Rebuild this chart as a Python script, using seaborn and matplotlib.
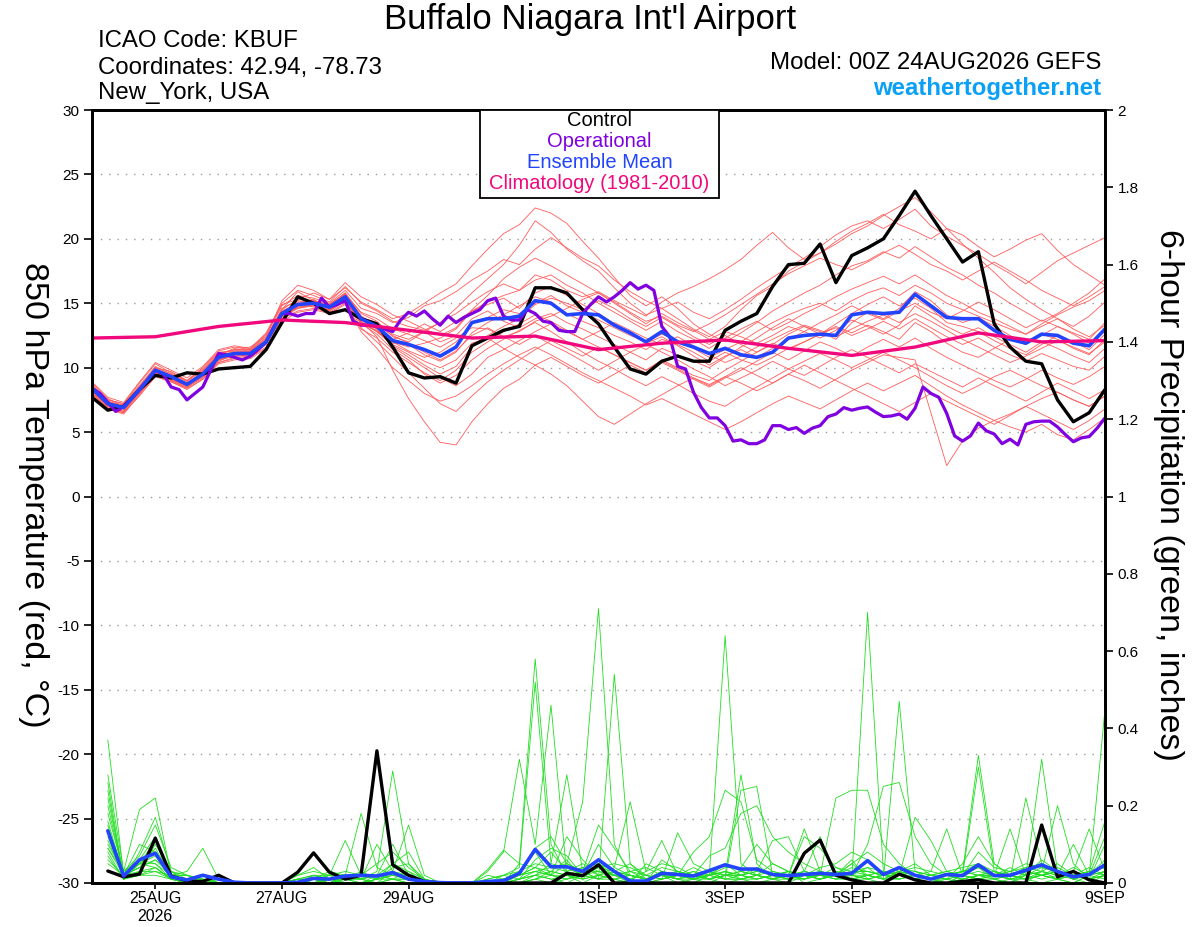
import numpy as np
import pandas as pd
import matplotlib
matplotlib.use("Agg")
import matplotlib.pyplot as plt
import seaborn as sns
from matplotlib.patches import Rectangle

# forecast hours counted from 00Z 24AUG2026
hours6 = np.arange(0, 385, 6)
hours3 = np.arange(0, 385, 3)
precip_hours = np.arange(6, 385, 6)
clim_hours = np.arange(0, 385, 24)

tick_hours = [24, 72, 120, 192, 240, 288, 336, 384]
tick_labels = ["25AUG\n2026", "27AUG", "29AUG", "1SEP", "3SEP", "5SEP", "7SEP", "9SEP"]

# 850 hPa temperature (C)
control_t = [7.7, 6.7, 7.0, 8.3, 9.4, 9.2, 9.6, 9.5, 9.9, 10.0, 10.1, 11.4, 13.5, 15.5, 15.0, 14.2, 14.5,
             13.8, 13.4, 11.6, 9.6, 9.2, 9.3, 8.8, 11.7, 12.3, 12.9, 13.2, 16.2, 16.2, 15.8, 14.5, 13.4,
             11.6, 9.9, 9.5, 10.5, 10.9, 10.5, 10.5, 12.9, 13.6, 14.2, 16.3, 18.0, 18.1, 19.6, 16.6, 18.7,
             19.3, 20.0, 21.8, 23.7, 21.8, 20.0, 18.2, 19.0, 13.4, 11.6, 10.5, 10.3, 7.5, 5.8, 6.5, 8.3]

mean_t = [8.4, 7.2, 6.9, 8.3, 9.8, 9.3, 8.7, 9.5, 10.8, 11.1, 11.1, 12.0, 14.2, 14.9, 15.0, 14.7, 15.5,
          13.8, 13.2, 12.1, 11.8, 11.4, 10.9, 11.6, 13.5, 13.8, 13.8, 14.0, 15.2, 15.0, 14.1, 14.2, 14.1,
          13.3, 12.7, 12.0, 12.8, 12.0, 11.6, 11.1, 11.5, 11.0, 10.8, 11.2, 12.3, 12.5, 12.6, 12.5, 14.1,
          14.3, 14.2, 14.3, 15.7, 14.8, 13.9, 13.8, 13.8, 12.9, 12.2, 11.9, 12.6, 12.5, 11.9, 11.7, 13.0]

oper_t = [8.4, 8.0, 7.3, 6.6, 7.0, 7.6, 8.3, 9.0, 9.8, 9.5, 8.5, 8.3, 7.5, 8.0, 8.5, 9.8,
          11.1, 11.0, 10.8, 10.6, 10.9, 11.4, 12.0, 13.2, 14.2, 14.2, 14.0, 14.2, 14.2, 15.4, 14.7, 14.9,
          15.2, 13.6, 13.3, 13.3, 13.2, 13.0, 12.8, 13.7, 14.3, 14.0, 14.4, 13.8, 13.3, 14.0, 13.5, 13.9,
          14.2, 14.5, 15.2, 15.4, 14.0, 13.7, 13.7, 14.5, 14.2, 13.6, 13.5, 12.9, 12.8, 12.8, 14.2, 14.9,
          15.5, 15.1, 15.5, 16.0, 16.6, 16.1, 16.4, 16.0, 13.2, 12.4, 10.1, 9.9, 8.1, 6.9, 6.1, 6.1,
          5.5, 4.3, 4.4, 4.1, 4.1, 4.4, 5.5, 5.5, 5.2, 5.35, 4.9, 5.3, 5.5, 6.2, 6.4, 6.9,
          6.7, 6.85, 6.95, 6.55, 6.2, 6.25, 6.4, 6.0, 6.85, 8.5, 8.0, 7.7, 6.45, 4.7, 4.3, 4.7,
          5.7, 5.1, 4.85, 4.1, 4.45, 4.0, 5.6, 5.8, 5.85, 5.85, 5.4, 4.8, 4.25, 4.55, 4.65, 5.3,
          6.1]

clim_t = [12.3, 12.4, 13.2, 13.7, 13.5, 12.9, 12.3, 12.45, 11.4, 11.9, 12.15, 11.5, 10.95, 11.6,
          12.7, 12.0, 12.1]

# 6-hour precipitation (inches)
control_p = [0.031, 0.016, 0.023, 0.116, 0.018, 0.005, 0.004, 0.02,
             0.0, 0.0, 0.0, 0.0, 0.028, 0.078, 0.028, 0.01,
             0.02, 0.342, 0.047, 0.02, 0.004, 0.0, 0.0, 0.0,
             0.0, 0.0, 0.0, 0.0, 0.0, 0.025, 0.019, 0.047,
             0.0, 0.0, 0.0, 0.0, 0.0, 0.0, 0.0, 0.0,
             0.0, 0.0, 0.0, 0.0, 0.077, 0.111, 0.02, 0.008,
             0.0, 0.0, 0.023, 0.008, 0.0, 0.0, 0.004, 0.008,
             0.0, 0.0, 0.0, 0.15, 0.016, 0.03, 0.008, 0.0]

mean_p = [0.135, 0.018, 0.06, 0.077, 0.016, 0.008, 0.02, 0.01,
          0.002, 0.0, 0.0, 0.0, 0.002, 0.012, 0.01, 0.018,
          0.02, 0.018, 0.027, 0.01, 0.004, 0.001, 0.0, 0.0,
          0.004, 0.006, 0.025, 0.087, 0.042, 0.042, 0.03, 0.06,
          0.03, 0.005, 0.005, 0.025, 0.022, 0.018, 0.032, 0.047,
          0.036, 0.036, 0.022, 0.019, 0.022, 0.025, 0.022, 0.025,
          0.058, 0.022, 0.04, 0.02, 0.01, 0.022, 0.019, 0.047,
          0.019, 0.02, 0.033, 0.047, 0.03, 0.016, 0.022, 0.047]

# ensemble members, 850 hPa temperature
members_t = [
    [8.6, 7.5, 7.2, 8.8, 10.3, 9.6, 9.0, 10.0, 11.3, 11.6, 11.4, 12.5, 14.8, 15.6, 15.4, 15.0, 16.0,
     14.6, 14.2, 13.5, 13.9, 14.8, 15.2, 15.9, 16.8, 17.5, 18.4, 18.0, 19.2, 20.1, 19.3, 18.5, 17.9,
     16.8, 15.9, 15.2, 14.6, 15.1, 14.3, 13.8, 14.5, 15.3, 16.2, 17.0, 17.8, 18.5, 19.4, 20.3, 21.0,
     21.4, 20.8, 21.5, 22.3, 21.0, 20.2, 19.5, 18.8, 18.0, 17.3, 16.5, 17.4, 18.3, 18.9, 19.5, 20.1],
    [8.2, 7.0, 6.6, 8.1, 9.5, 9.0, 8.5, 9.3, 10.6, 10.9, 11.0, 12.1, 14.5, 15.9, 15.2, 14.9, 15.8,
     14.2, 13.6, 12.4, 12.0, 12.8, 13.5, 14.6, 15.8, 16.9, 18.0, 19.5, 21.4, 20.5, 19.2, 18.3, 17.5,
     16.2, 15.0, 14.1, 14.6, 13.8, 13.0, 12.4, 13.2, 14.5, 15.6, 16.3, 17.5, 18.2, 18.9, 19.6, 20.4,
     21.0, 21.8, 22.5, 23.2, 22.1, 20.8, 19.6, 18.5, 17.4, 16.2, 15.3, 14.5, 13.8, 13.2, 14.0, 15.1],
    [8.8, 7.6, 7.0, 8.6, 10.0, 9.5, 8.9, 9.8, 11.0, 11.5, 11.6, 12.4, 15.2, 16.4, 16.0, 15.3, 16.2,
     15.1, 14.5, 13.8, 14.2, 15.0, 15.8, 16.5, 17.9, 19.2, 20.4, 21.1, 22.4, 22.0, 21.2, 19.8, 18.5,
     17.0, 15.6, 14.8, 15.5, 14.6, 13.4, 12.6, 12.0, 12.7, 13.5, 14.4, 15.1, 15.8, 16.4, 17.2, 17.9,
     18.3, 19.0, 18.5, 19.4, 18.6, 17.8, 17.2, 16.4, 15.8, 15.0, 14.3, 13.6, 14.2, 15.0, 15.8, 16.9],
    [8.0, 6.8, 6.5, 8.0, 9.4, 9.1, 8.6, 9.4, 10.4, 10.8, 10.9, 11.8, 13.9, 14.6, 14.9, 14.4, 15.2,
     13.4, 12.9, 12.0, 11.6, 11.9, 12.3, 13.0, 14.4, 15.1, 15.6, 16.0, 17.2, 16.8, 16.0, 15.5, 15.9,
     15.2, 14.6, 14.0, 15.1, 15.8, 16.3, 16.9, 17.6, 18.4, 19.5, 20.5, 19.3, 18.4, 18.9, 19.8, 20.6,
     21.2, 21.9, 21.1, 20.6, 20.0, 20.8, 20.3, 19.4, 18.6, 19.2, 19.9, 20.4, 19.1, 18.0, 17.2, 16.4],
    [8.5, 7.3, 7.1, 8.4, 10.0, 9.7, 9.0, 9.9, 11.2, 11.3, 11.5, 12.6, 14.9, 15.3, 15.8, 15.3, 16.6,
     15.5, 14.9, 14.1, 13.6, 13.0, 12.5, 13.1, 14.5, 15.6, 16.9, 17.8, 18.5, 17.9, 17.2, 16.5, 15.8,
     15.1, 14.3, 13.6, 14.0, 13.3, 12.8, 13.4, 14.1, 14.9, 15.7, 16.5, 17.3, 17.9, 18.5, 18.0, 17.6,
     18.2, 18.9, 19.5, 18.8, 18.0, 17.5, 16.8, 17.5, 18.2, 17.5, 16.8, 16.0, 15.4, 14.8, 15.5, 16.3],
    [8.3, 7.1, 6.8, 8.2, 9.7, 9.2, 8.6, 9.6, 10.9, 11.2, 11.0, 11.9, 14.0, 14.8, 15.1, 14.8, 15.6,
     14.0, 13.2, 12.0, 11.3, 10.8, 11.2, 12.0, 13.4, 13.9, 14.5, 14.2, 15.0, 15.6, 14.8, 14.3, 13.7,
     13.1, 12.5, 12.0, 12.6, 12.1, 11.5, 10.8, 11.4, 12.0, 12.8, 13.5, 14.1, 14.6, 15.0, 14.4, 15.2,
     15.8, 16.2, 15.6, 16.4, 15.8, 15.0, 14.5, 14.0, 13.5, 13.0, 12.6, 13.2, 13.8, 13.0, 12.4, 13.3],
    [8.1, 7.0, 6.7, 8.5, 9.9, 9.4, 8.8, 9.4, 10.7, 11.0, 11.3, 12.2, 14.4, 15.0, 14.7, 14.5, 15.3,
     13.6, 12.8, 11.7, 11.0, 10.2, 9.5, 10.1, 11.6, 12.5, 13.2, 13.8, 14.9, 15.4, 15.0, 14.5, 15.2,
     14.6, 13.8, 13.2, 13.9, 13.2, 12.4, 11.8, 12.5, 11.8, 11.2, 11.8, 12.6, 13.2, 12.8, 12.2, 13.5,
     14.3, 13.8, 14.6, 15.9, 15.2, 14.1, 13.5, 13.9, 13.2, 12.5, 11.8, 12.6, 12.2, 11.5, 11.0, 12.2],
    [8.7, 7.4, 7.0, 8.2, 9.6, 9.1, 8.5, 9.2, 10.5, 11.0, 11.2, 12.0, 14.1, 14.9, 15.3, 14.6, 15.4,
     13.9, 13.5, 12.6, 12.2, 12.8, 12.0, 12.5, 13.8, 14.4, 13.6, 13.1, 13.8, 14.2, 13.5, 13.0, 12.4,
     11.8, 11.2, 10.6, 11.5, 11.0, 10.5, 10.0, 10.8, 11.6, 12.3, 13.1, 13.8, 13.2, 12.6, 13.4, 14.2,
     14.9, 15.5, 14.8, 15.4, 14.6, 13.5, 13.2, 12.8, 12.1, 11.5, 11.0, 11.8, 12.5, 12.0, 11.4, 12.6],
    [8.4, 7.3, 7.1, 8.4, 9.8, 9.2, 8.7, 9.7, 11.0, 11.4, 11.3, 12.3, 14.6, 15.2, 15.0, 14.9, 15.7,
     14.3, 13.8, 13.0, 12.6, 12.1, 11.6, 12.3, 13.1, 13.0, 12.4, 12.8, 13.6, 14.0, 14.6, 15.3, 15.8,
     15.0, 14.2, 13.4, 14.2, 13.5, 12.9, 12.2, 12.8, 12.4, 11.9, 12.5, 13.2, 12.8, 12.3, 12.9, 13.7,
     13.2, 12.6, 13.3, 14.8, 14.0, 13.2, 12.6, 13.1, 12.4, 11.8, 11.2, 12.0, 11.5, 10.9, 10.4, 11.5],
    [8.2, 7.1, 6.9, 8.0, 9.5, 9.3, 8.8, 9.5, 10.8, 11.1, 11.0, 11.9, 14.0, 14.7, 14.8, 14.4, 15.2,
     13.5, 12.8, 11.9, 11.8, 11.0, 10.5, 11.2, 12.7, 13.5, 14.1, 14.8, 15.5, 15.1, 14.2, 13.6, 13.1,
     12.5, 12.0, 11.4, 12.2, 11.8, 11.2, 10.5, 11.2, 10.6, 10.2, 10.8, 11.5, 12.0, 12.6, 13.2, 12.7,
     13.3, 12.8, 12.2, 13.5, 12.8, 11.9, 11.2, 10.8, 11.5, 12.2, 11.8, 12.5, 13.2, 12.6, 11.9, 13.0],
    [8.9, 7.7, 7.3, 8.9, 10.4, 9.8, 9.2, 10.1, 11.4, 11.7, 11.5, 12.7, 15.0, 16.0, 15.6, 15.1, 16.3,
     15.0, 14.4, 13.6, 13.2, 12.9, 13.5, 14.2, 15.1, 15.9, 16.5, 16.0, 16.8, 17.2, 16.4, 15.8, 15.0,
     14.3, 13.6, 12.9, 13.6, 12.8, 12.2, 11.5, 12.3, 13.0, 13.6, 12.9, 13.5, 14.2, 14.8, 15.5, 16.1,
     16.6, 17.1, 16.5, 17.2, 16.4, 15.6, 15.0, 14.3, 13.8, 13.2, 12.6, 13.4, 14.1, 14.7, 15.2, 16.0],
    [8.0, 6.9, 6.5, 7.8, 9.3, 8.9, 8.3, 9.1, 10.3, 10.6, 10.7, 11.5, 13.6, 14.3, 14.5, 14.2, 14.9,
     13.0, 12.3, 11.2, 10.4, 9.6, 9.0, 9.8, 11.2, 12.0, 12.8, 13.4, 14.1, 13.6, 12.9, 12.2, 11.6,
     11.0, 10.4, 9.8, 10.6, 10.0, 9.4, 9.0, 9.8, 10.5, 11.2, 11.9, 11.4, 12.0, 12.6, 13.1, 12.5,
     13.0, 13.6, 13.0, 13.8, 13.1, 12.4, 11.8, 12.3, 11.6, 11.0, 10.5, 11.1, 10.6, 10.1, 9.8, 10.9],
    [8.6, 7.2, 6.8, 8.3, 9.9, 9.4, 8.6, 9.3, 10.9, 11.3, 11.2, 12.1, 14.3, 15.1, 15.2, 14.7, 15.5,
     13.7, 13.0, 12.2, 12.7, 13.4, 12.8, 13.6, 14.4, 14.9, 15.4, 14.6, 15.8, 16.3, 15.6, 14.9, 14.2,
     13.4, 12.6, 11.9, 12.4, 11.7, 10.9, 10.2, 10.9, 11.4, 10.8, 11.5, 12.2, 12.8, 13.5, 14.1, 14.8,
     14.2, 13.7, 14.4, 15.0, 14.3, 13.8, 14.4, 15.1, 14.5, 13.8, 13.1, 13.7, 13.2, 12.7, 12.2, 13.5],
    [8.3, 7.0, 6.6, 8.2, 9.6, 9.0, 8.4, 9.5, 10.7, 11.0, 11.2, 12.0, 14.2, 15.0, 14.9, 14.6, 15.5,
     13.8, 13.0, 11.6, 10.8, 10.0, 9.2, 8.6, 9.5, 10.8, 11.4, 12.1, 12.8, 13.4, 12.8, 12.2, 12.8,
     13.5, 12.9, 12.3, 11.8, 12.4, 11.7, 11.0, 10.4, 10.9, 11.6, 12.2, 12.8, 13.3, 12.9, 12.4, 13.0,
     13.6, 14.1, 13.5, 14.2, 13.6, 12.9, 12.2, 11.6, 11.0, 10.4, 10.9, 11.5, 12.1, 11.6, 11.1, 12.0],
    [8.5, 7.4, 7.0, 8.3, 9.8, 9.4, 8.8, 9.6, 10.9, 11.2, 11.3, 12.1, 14.3, 15.0, 15.1, 14.8, 15.7,
     13.6, 12.4, 9.8, 7.6, 5.8, 4.2, 4.0, 5.8, 7.2, 8.4, 9.1, 10.2, 10.8, 10.1, 9.4, 8.8,
     9.5, 10.2, 9.6, 10.4, 9.8, 9.1, 8.5, 9.2, 9.8, 10.5, 11.2, 10.6, 11.3, 12.0, 11.5, 10.9,
     11.6, 12.2, 11.6, 12.3, 11.5, 10.8, 10.2, 9.6, 9.0, 8.5, 9.1, 9.8, 9.2, 8.7, 9.3, 10.1],
    [8.1, 7.0, 6.6, 8.1, 9.6, 9.1, 8.6, 9.3, 10.6, 10.9, 11.0, 11.8, 14.0, 14.6, 14.8, 14.5, 15.2,
     13.5, 12.8, 11.8, 11.2, 10.5, 10.0, 10.6, 11.9, 12.3, 11.5, 10.8, 10.2, 9.5, 8.6, 7.4, 6.2,
     5.6, 6.4, 7.2, 7.9, 8.6, 9.2, 8.7, 9.3, 8.8, 8.2, 8.8, 9.5, 9.0, 8.4, 9.1, 9.8,
     10.4, 11.0, 10.8, 10.6, 6.5, 2.4, 4.3, 5.3, 5.9, 6.4, 7.0, 7.6, 8.1, 7.5, 7.0, 7.8],
    [8.0, 6.8, 6.4, 7.9, 9.4, 8.9, 8.4, 9.1, 10.4, 10.7, 10.8, 11.6, 13.8, 14.4, 14.6, 14.3, 15.0,
     12.8, 11.5, 10.0, 9.0, 8.0, 7.4, 7.8, 8.6, 9.5, 10.3, 11.0, 11.6, 11.0, 10.3, 9.6, 9.0,
     8.4, 7.8, 7.1, 7.6, 7.0, 6.4, 5.8, 5.2, 5.8, 6.5, 7.2, 7.8, 7.3, 6.8, 7.5, 8.2,
     8.8, 8.2, 8.8, 9.4, 8.6, 7.8, 7.1, 6.5, 5.9, 5.4, 5.0, 5.6, 4.8, 4.4, 5.2, 6.1],
    [8.4, 7.2, 6.9, 8.4, 9.8, 9.3, 8.7, 9.5, 10.8, 11.2, 11.1, 12.0, 14.1, 14.8, 15.0, 14.7, 15.4,
     13.4, 12.6, 11.4, 10.6, 9.5, 8.8, 9.4, 10.6, 11.5, 12.2, 12.9, 13.5, 12.8, 12.0, 11.2, 10.5,
     9.9, 9.2, 8.6, 9.3, 8.7, 8.0, 7.4, 7.0, 7.8, 8.5, 9.2, 9.9, 10.5, 11.1, 10.6, 10.0,
     10.6, 11.2, 10.6, 10.0, 9.3, 8.6, 8.0, 8.6, 9.3, 9.8, 9.2, 8.6, 8.1, 7.5, 7.0, 7.8],
    [8.6, 7.5, 7.2, 8.6, 10.1, 9.5, 9.0, 9.8, 11.1, 11.4, 11.4, 12.3, 14.5, 15.3, 15.2, 14.9, 15.8,
     14.0, 13.3, 12.5, 11.9, 11.2, 10.6, 11.3, 12.5, 13.1, 12.4, 11.8, 12.5, 11.8, 11.2, 10.5, 9.8,
     10.5, 11.2, 11.8, 11.2, 10.6, 9.9, 9.3, 8.6, 9.2, 9.8, 10.5, 9.9, 9.4, 10.1, 10.8, 11.4,
     10.8, 10.2, 9.6, 10.3, 9.7, 9.1, 8.5, 9.2, 8.6, 8.0, 7.4, 8.1, 8.8, 8.2, 7.6, 8.3],
    [8.2, 7.1, 6.8, 8.2, 9.7, 9.1, 8.6, 9.4, 10.7, 11.0, 11.1, 11.9, 14.0, 14.7, 14.9, 14.5, 15.3,
     13.1, 12.0, 10.8, 9.6, 8.4, 7.2, 6.6, 7.8, 8.9, 9.8, 10.6, 11.4, 12.1, 11.5, 10.9, 11.6,
     11.0, 10.4, 9.8, 10.5, 9.9, 9.2, 8.6, 9.3, 10.0, 9.4, 8.8, 9.5, 10.2, 9.6, 9.0, 8.4,
     7.8, 7.2, 6.6, 7.3, 8.0, 7.4, 6.8, 6.2, 5.6, 6.3, 7.0, 6.4, 5.8, 5.2, 5.9, 6.8],
]

# ensemble members, 6-hour precipitation
members_p = [
    [0.37, 0.02, 0.05, 0.08, 0.01, 0, 0, 0, 0, 0, 0, 0, 0, 0.01, 0, 0.02,
     0.01, 0.03, 0.29, 0.05, 0, 0, 0, 0, 0, 0, 0.05, 0.58, 0.10, 0.02, 0.01, 0.05,
     0.02, 0, 0, 0.06, 0.03, 0.01, 0, 0.02, 0.28, 0.05, 0.01, 0, 0.02, 0.01, 0.03, 0.02,
     0.01, 0, 0.02, 0.01, 0, 0.01, 0, 0.02, 0.01, 0, 0.03, 0.02, 0.01, 0, 0.02, 0.45],
    [0.28, 0.03, 0.19, 0.22, 0.02, 0.01, 0, 0, 0, 0, 0, 0, 0.01, 0.02, 0.01, 0,
     0, 0.01, 0.02, 0.01, 0, 0, 0, 0, 0.03, 0.08, 0.32, 0.10, 0.46, 0.02, 0, 0.02,
     0.01, 0, 0, 0.01, 0.02, 0.04, 0.02, 0.64, 0.05, 0.02, 0.01, 0.03, 0, 0.01, 0.02, 0.01,
     0.70, 0.03, 0.02, 0.01, 0, 0, 0.02, 0.01, 0.02, 0.01, 0, 0.03, 0.2, 0.05, 0.01, 0.02],
    [0.26, 0.01, 0.08, 0.17, 0.03, 0, 0, 0, 0, 0, 0, 0, 0.02, 0.03, 0.02, 0.11,
     0.02, 0.01, 0.05, 0.08, 0.01, 0, 0, 0, 0.01, 0.02, 0.04, 0.52, 0.05, 0.28, 0.03, 0.01,
     0.54, 0.05, 0.01, 0.02, 0, 0.01, 0.03, 0.01, 0.24, 0.25, 0.02, 0.01, 0.02, 0.03, 0.02, 0.01,
     0.02, 0.01, 0.47, 0.03, 0.01, 0, 0.02, 0.04, 0.01, 0, 0.02, 0.32, 0.03, 0.01, 0, 0.02],
    [0.2, 0.02, 0.06, 0.12, 0.02, 0.01, 0.02, 0, 0, 0, 0, 0, 0, 0.01, 0.03, 0.02,
     0.18, 0.04, 0.02, 0.01, 0, 0, 0, 0, 0, 0.01, 0.03, 0.08, 0.02, 0.05, 0.21, 0.71,
     0.1, 0.02, 0.01, 0.02, 0.01, 0, 0.02, 0.03, 0.02, 0.01, 0.02, 0.02, 0.14, 0.03, 0.02, 0.02,
     0.04, 0.01, 0.03, 0.02, 0.01, 0.02, 0.03, 0.33, 0.05, 0.02, 0.01, 0.02, 0.01, 0, 0.02, 0.03],
    [0.15, 0.01, 0.03, 0.1, 0.03, 0.02, 0, 0, 0, 0, 0, 0, 0, 0.02, 0.01, 0.01,
     0.01, 0.02, 0.1, 0.02, 0, 0, 0, 0, 0, 0, 0.01, 0.03, 0.02, 0.01, 0.02, 0.1,
     0.04, 0.21, 0.03, 0.11, 0.02, 0.01, 0.02, 0.05, 0.02, 0.03, 0.11, 0.12, 0.03, 0.02, 0.22, 0.24,
     0.24, 0.1, 0.05, 0.02, 0.01, 0, 0.01, 0.02, 0.02, 0.14, 0.02, 0.03, 0.02, 0.01, 0.03, 0.16],
    [0.12, 0.02, 0.04, 0.06, 0.02, 0.03, 0.09, 0.01, 0, 0, 0, 0, 0.01, 0, 0.02, 0.03,
     0.02, 0.02, 0.01, 0.03, 0, 0, 0, 0, 0.02, 0.01, 0.02, 0.04, 0.08, 0.03, 0.04, 0.02,
     0.03, 0.01, 0.02, 0.01, 0.13, 0.05, 0.03, 0.02, 0.03, 0.02, 0.01, 0.02, 0.03, 0.12, 0.02, 0.04,
     0.03, 0.02, 0.02, 0.17, 0.11, 0.03, 0.02, 0.3, 0.03, 0.01, 0.22, 0.05, 0.02, 0.1, 0.02, 0.03],
    [0.1, 0.03, 0.05, 0.05, 0.01, 0.01, 0.02, 0, 0, 0, 0, 0, 0, 0.01, 0, 0.02,
     0.01, 0.1, 0.03, 0.15, 0.02, 0, 0, 0, 0.035, 0.085, 0.05, 0.04, 0.03, 0.02, 0.03, 0.04,
     0.02, 0.03, 0.01, 0.02, 0.03, 0.02, 0.01, 0.02, 0.02, 0.01, 0.02, 0.03, 0.02, 0.02, 0.01, 0.02,
     0.01, 0.02, 0.02, 0.02, 0.03, 0.14, 0.02, 0.03, 0.02, 0.03, 0.04, 0.05, 0.02, 0.03, 0.14, 0.03],
    [0.09, 0.02, 0.03, 0.04, 0.01, 0, 0, 0.01, 0, 0, 0, 0, 0.02, 0.04, 0.01, 0,
     0, 0.01, 0.02, 0.02, 0, 0, 0, 0, 0, 0.01, 0.02, 0.03, 0.04, 0.05, 0.03, 0.03,
     0.02, 0.02, 0.01, 0.03, 0.02, 0.02, 0.03, 0.01, 0.02, 0.03, 0.02, 0.01, 0.03, 0.02, 0.03, 0.01,
     0.02, 0.03, 0.02, 0.01, 0, 0.02, 0.03, 0.02, 0.03, 0.02, 0.03, 0.02, 0.03, 0.02, 0.03, 0.02],
    [0.07, 0.01, 0.02, 0.03, 0.01, 0, 0.01, 0, 0, 0, 0, 0, 0, 0, 0, 0,
     0, 0, 0, 0, 0, 0, 0, 0, 0, 0, 0.01, 0.02, 0.01, 0, 0.02, 0.01,
     0.01, 0, 0.05, 0.03, 0.02, 0.01, 0.02, 0.03, 0.01, 0.02, 0.05, 0.03, 0.02, 0.01, 0.02, 0.05,
     0.02, 0.01, 0.03, 0.01, 0.02, 0.01, 0, 0.01, 0.01, 0.02, 0.01, 0, 0.01, 0.02, 0.01, 0.1],
    [0.05, 0.02, 0.02, 0.02, 0.01, 0.01, 0, 0, 0, 0, 0, 0, 0.01, 0.01, 0, 0.01,
     0, 0, 0.01, 0, 0, 0, 0, 0, 0, 0, 0, 0.01, 0.03, 0.06, 0.01, 0.02,
     0.01, 0.02, 0.01, 0.02, 0.01, 0.03, 0.01, 0, 0.01, 0, 0.01, 0.02, 0.01, 0.03, 0.02, 0.01,
     0.01, 0.02, 0.01, 0.02, 0.01, 0, 0.01, 0.02, 0.02, 0.01, 0.01, 0.02, 0.03, 0.01, 0.02, 0.01],
    [0.22, 0.02, 0.1, 0.08, 0.02, 0.01, 0, 0, 0, 0, 0, 0, 0, 0.02, 0.01, 0.02,
     0.01, 0.02, 0.05, 0.03, 0.01, 0, 0, 0, 0, 0, 0, 0.02, 0.05, 0.04, 0.02, 0.04,
     0.05, 0.04, 0.02, 0.01, 0.02, 0.08, 0.12, 0.24, 0.21, 0.06, 0.03, 0.02, 0.01, 0.02, 0.03, 0.02,
     0.02, 0.01, 0.02, 0.03, 0.02, 0.01, 0.05, 0.12, 0.05, 0.02, 0.01, 0.02, 0.04, 0.02, 0.01, 0.02],
    [0.18, 0.03, 0.07, 0.15, 0.04, 0.02, 0.01, 0, 0, 0, 0, 0, 0, 0, 0.01, 0.01,
     0.02, 0.05, 0.08, 0.04, 0.01, 0, 0, 0, 0, 0.02, 0.03, 0.05, 0.04, 0.03, 0.05, 0.03,
     0.02, 0.01, 0.03, 0.05, 0.04, 0.02, 0.07, 0.09, 0.18, 0.2, 0.12, 0.08, 0.05, 0.03, 0.02, 0.03,
     0.03, 0.02, 0.01, 0.02, 0.01, 0.02, 0.03, 0.02, 0.02, 0.04, 0.02, 0.06, 0.03, 0.02, 0.01, 0.03],
    [0.14, 0.01, 0.05, 0.07, 0.02, 0.02, 0.01, 0, 0, 0, 0, 0, 0, 0.01, 0.02, 0,
     0, 0.01, 0.02, 0.02, 0, 0, 0, 0, 0.01, 0.02, 0.01, 0.06, 0.09, 0.07, 0.02, 0.01,
     0.03, 0.02, 0.01, 0.02, 0.01, 0.01, 0.02, 0.01, 0.01, 0.02, 0.03, 0.02, 0.12, 0.09, 0.04, 0.02,
     0.1, 0.25, 0.26, 0.12, 0.05, 0.02, 0.01, 0.02, 0.01, 0.02, 0.03, 0.02, 0.01, 0.02, 0.03, 0.04],
    [0.11, 0.02, 0.04, 0.06, 0.03, 0.01, 0, 0, 0, 0, 0, 0, 0.01, 0, 0.01, 0.01,
     0, 0.02, 0.01, 0.01, 0, 0, 0, 0, 0, 0, 0.01, 0.02, 0.01, 0.02, 0.03, 0.15,
     0.09, 0.03, 0.02, 0.01, 0.02, 0.03, 0.02, 0.05, 0.03, 0.02, 0.01, 0.02, 0.03, 0.02, 0.02, 0.05,
     0.08, 0.05, 0.03, 0.02, 0.01, 0.02, 0.03, 0.05, 0.02, 0.03, 0.05, 0.04, 0.03, 0.02, 0.02, 0.12],
    [0.08, 0.01, 0.03, 0.03, 0.02, 0, 0, 0, 0, 0, 0, 0, 0, 0, 0, 0.01,
     0.01, 0, 0, 0, 0, 0, 0, 0, 0, 0, 0, 0.01, 0, 0.01, 0.02, 0.03,
     0.02, 0.01, 0, 0.01, 0.02, 0.01, 0.01, 0.02, 0.01, 0.01, 0.02, 0.01, 0.01, 0.02, 0.01, 0.03,
     0.02, 0.01, 0.01, 0.02, 0.01, 0.01, 0.02, 0.01, 0, 0.01, 0.02, 0.01, 0.02, 0.03, 0.01, 0.02],
    [0.06, 0.02, 0.05, 0.04, 0.01, 0.01, 0, 0, 0, 0, 0, 0, 0.01, 0.02, 0.02, 0.02,
     0.01, 0, 0.03, 0.01, 0, 0, 0, 0, 0, 0.01, 0.02, 0.03, 0.02, 0.12, 0.06, 0.02,
     0.04, 0.02, 0.01, 0.03, 0.01, 0.02, 0.03, 0.02, 0.02, 0.04, 0.02, 0.01, 0.02, 0.01, 0.02, 0.06,
     0.01, 0.02, 0.03, 0.04, 0.03, 0.02, 0.01, 0.02, 0.03, 0.02, 0.04, 0.03, 0.02, 0.04, 0.02, 0.06],
    [0.13, 0.02, 0.04, 0.09, 0.02, 0.01, 0.01, 0, 0, 0, 0, 0, 0, 0.01, 0, 0,
     0, 0.01, 0.01, 0.01, 0, 0, 0, 0, 0, 0, 0.02, 0.04, 0.02, 0.02, 0.04, 0.05,
     0.03, 0.05, 0.02, 0.04, 0.03, 0.02, 0.02, 0.04, 0.04, 0.1, 0.05, 0.03, 0.02, 0.02, 0.04, 0.03,
     0.03, 0.02, 0.04, 0.03, 0.02, 0.03, 0.04, 0.05, 0.03, 0.02, 0.01, 0.03, 0.05, 0.02, 0.04, 0.02],
    [0.09, 0.03, 0.06, 0.05, 0.02, 0.02, 0.01, 0, 0, 0, 0, 0, 0, 0, 0, 0,
     0, 0, 0.01, 0, 0, 0, 0, 0, 0, 0, 0, 0.01, 0.02, 0.01, 0.03, 0.01,
     0.02, 0.03, 0.04, 0.02, 0.01, 0.02, 0.01, 0.02, 0.03, 0.02, 0.01, 0.02, 0.01, 0.02, 0.01, 0.01,
     0.02, 0.03, 0.02, 0.01, 0.02, 0.03, 0.02, 0.01, 0.02, 0.01, 0.02, 0.03, 0.01, 0.02, 0.01, 0.02],
    [0.16, 0.02, 0.05, 0.11, 0.02, 0.01, 0, 0, 0, 0, 0, 0, 0.01, 0.01, 0, 0.02,
     0.01, 0.02, 0.03, 0.02, 0, 0, 0, 0, 0, 0.01, 0.02, 0.09, 0.12, 0.05, 0.03, 0.04,
     0.03, 0.02, 0.01, 0.02, 0.03, 0.02, 0.01, 0.03, 0.02, 0.01, 0.02, 0.03, 0.02, 0.04, 0.05, 0.08,
     0.06, 0.02, 0.03, 0.05, 0.02, 0.01, 0.02, 0.08, 0.04, 0.03, 0.02, 0.04, 0.03, 0.01, 0.02, 0.05],
    [0.24, 0.01, 0.02, 0.04, 0.01, 0, 0, 0, 0, 0, 0, 0, 0, 0, 0.01, 0.01,
     0.03, 0.01, 0.04, 0.05, 0.01, 0, 0, 0, 0, 0, 0.01, 0.02, 0.03, 0.02, 0.01, 0.02,
     0.01, 0.02, 0.01, 0.02, 0.02, 0.01, 0.02, 0.01, 0.01, 0.02, 0.01, 0.01, 0.02, 0.01, 0.02, 0.03,
     0.04, 0.03, 0.02, 0.01, 0.02, 0.02, 0.03, 0.04, 0.02, 0.02, 0.03, 0.02, 0.03, 0.02, 0.02, 0.05],
]

for row in members_t:
    assert len(row) == len(hours6), len(row)
for row in members_p:
    assert len(row) == len(precip_hours), len(row)

temp_df = pd.DataFrame([(m, h, v) for m, row in enumerate(members_t) for h, v in zip(hours6, row)],
                       columns=["member", "hour", "temp"])
prcp_df = pd.DataFrame([(m, h, v) for m, row in enumerate(members_p) for h, v in zip(precip_hours, row)],
                       columns=["member", "hour", "prcp"])

sns.set_style("ticks")
plt.rcParams['font.family'] = ['Liberation Sans', 'DejaVu Sans']
plt.rcParams['axes.unicode_minus'] = False
plt.rcParams['text.color'] = 'black'
plt.rcParams['xtick.color'] = 'black'
plt.rcParams['ytick.color'] = 'black'
plt.rcParams['xtick.labelcolor'] = 'black'
plt.rcParams['ytick.labelcolor'] = 'black'

fig = plt.figure(figsize=(12, 9.27), dpi=100)
ax = fig.add_axes([92 / 1200, 1 - 883 / 927, (1105 - 92) / 1200, (883 - 110) / 927])
ax2 = ax.twinx()

RED = "#ff5a5a"
GREEN = "#22dd22"
BLACK = "black"
PURPLE = "#8000e0"
BLUE = "#2244ff"
PINK = "#f0087c"

# temperature ensemble
sns.lineplot(data=temp_df, x="hour", y="temp", units="member", estimator=None,
             color=RED, lw=0.6, ax=ax, legend=False)
sns.lineplot(x=hours6, y=control_t, color=BLACK, lw=2.4, ax=ax)
sns.lineplot(x=hours3, y=oper_t, color=PURPLE, lw=2.3, ax=ax)
sns.lineplot(x=hours6, y=mean_t, color=BLUE, lw=2.6, ax=ax)
sns.lineplot(x=clim_hours, y=clim_t, color=PINK, lw=2.4, ax=ax)

# precipitation ensemble
sns.lineplot(data=prcp_df, x="hour", y="prcp", units="member", estimator=None,
             color=GREEN, lw=0.6, ax=ax2, legend=False)
sns.lineplot(x=precip_hours, y=control_p, color=BLACK, lw=2.4, ax=ax2)
sns.lineplot(x=precip_hours, y=mean_p, color=BLUE, lw=2.6, ax=ax2)

ax.set_xlim(0, 384)
ax.set_ylim(-30, 30)
ax2.set_ylim(0, 2)
ax.set_xticks(tick_hours)
ax.set_xticklabels(tick_labels)
ax.set_yticks(np.arange(-30, 31, 5))
ax.set_yticklabels([str(v) for v in range(-30, 31, 5)])
ax2.set_yticks(np.arange(0, 2.01, 0.2))
ax2.set_yticklabels(["%g" % round(v, 1) for v in np.arange(0, 2.01, 0.2)])
ax.set_xlabel("")
ax.set_ylabel("")
ax2.set_ylabel("")

ax.yaxis.grid(True, linestyle=(0, (1, 5)), color="#9a9a9a", lw=1.0)
ax.tick_params(axis="y", direction="out", length=6, width=1.2, labelsize=11, pad=3)
ax.tick_params(axis="x", direction="out", length=4, width=1.2, labelsize=11.5, pad=2)
ax2.tick_params(axis="y", direction="out", length=6, width=1.2, labelsize=11, pad=3)
for a in (ax, ax2):
    for s in a.spines.values():
        s.set_visible(True)
        s.set_linewidth(2.0)
        s.set_color("black")

# legend box
box = Rectangle((0.383, 0.886), 0.236, 0.114, transform=ax.transAxes, facecolor="white",
                edgecolor="black", lw=1.3, zorder=10)
ax2.add_patch(box)
for i, (txt, col) in enumerate([("Control", BLACK), ("Operational", PURPLE),
                                ("Ensemble Mean", BLUE), ("Climatology (1981-2010)", PINK)]):
    ax2.text(0.501, 0.986 - i * 0.0272, txt, color=col, fontsize=14.5, ha="center", va="center",
             transform=ax.transAxes, zorder=11)

# headers
fig.text(0.4917, 0.979, "Buffalo Niagara Int'l Airport", fontsize=25, ha="center", va="center")
fig.text(0.0817, 0.956, "ICAO Code: KBUF", fontsize=17.3, ha="left", va="center")
fig.text(0.0817, 0.927, "Coordinates: 42.94, -78.73", fontsize=17.3, ha="left", va="center")
fig.text(0.0817, 0.900, "New_York, USA", fontsize=17.3, ha="left", va="center")
fig.text(0.918, 0.932, "Model: 00Z 24AUG2026 GEFS", fontsize=17.3, ha="right", va="center")
fig.text(0.918, 0.904, "weathertogether.net", fontsize=17.3, fontweight="bold", color="#0aa0f5",
         ha="right", va="center")
fig.text(0.028, 0.466, "850 hPa Temperature (red, °C)", fontsize=24.5, rotation=270,
         ha="center", va="center")
fig.text(0.974, 0.466, "6-hour Precipitation (green, inches)", fontsize=24.5, rotation=270,
         ha="center", va="center")

fig.savefig("out.png", dpi=100)
